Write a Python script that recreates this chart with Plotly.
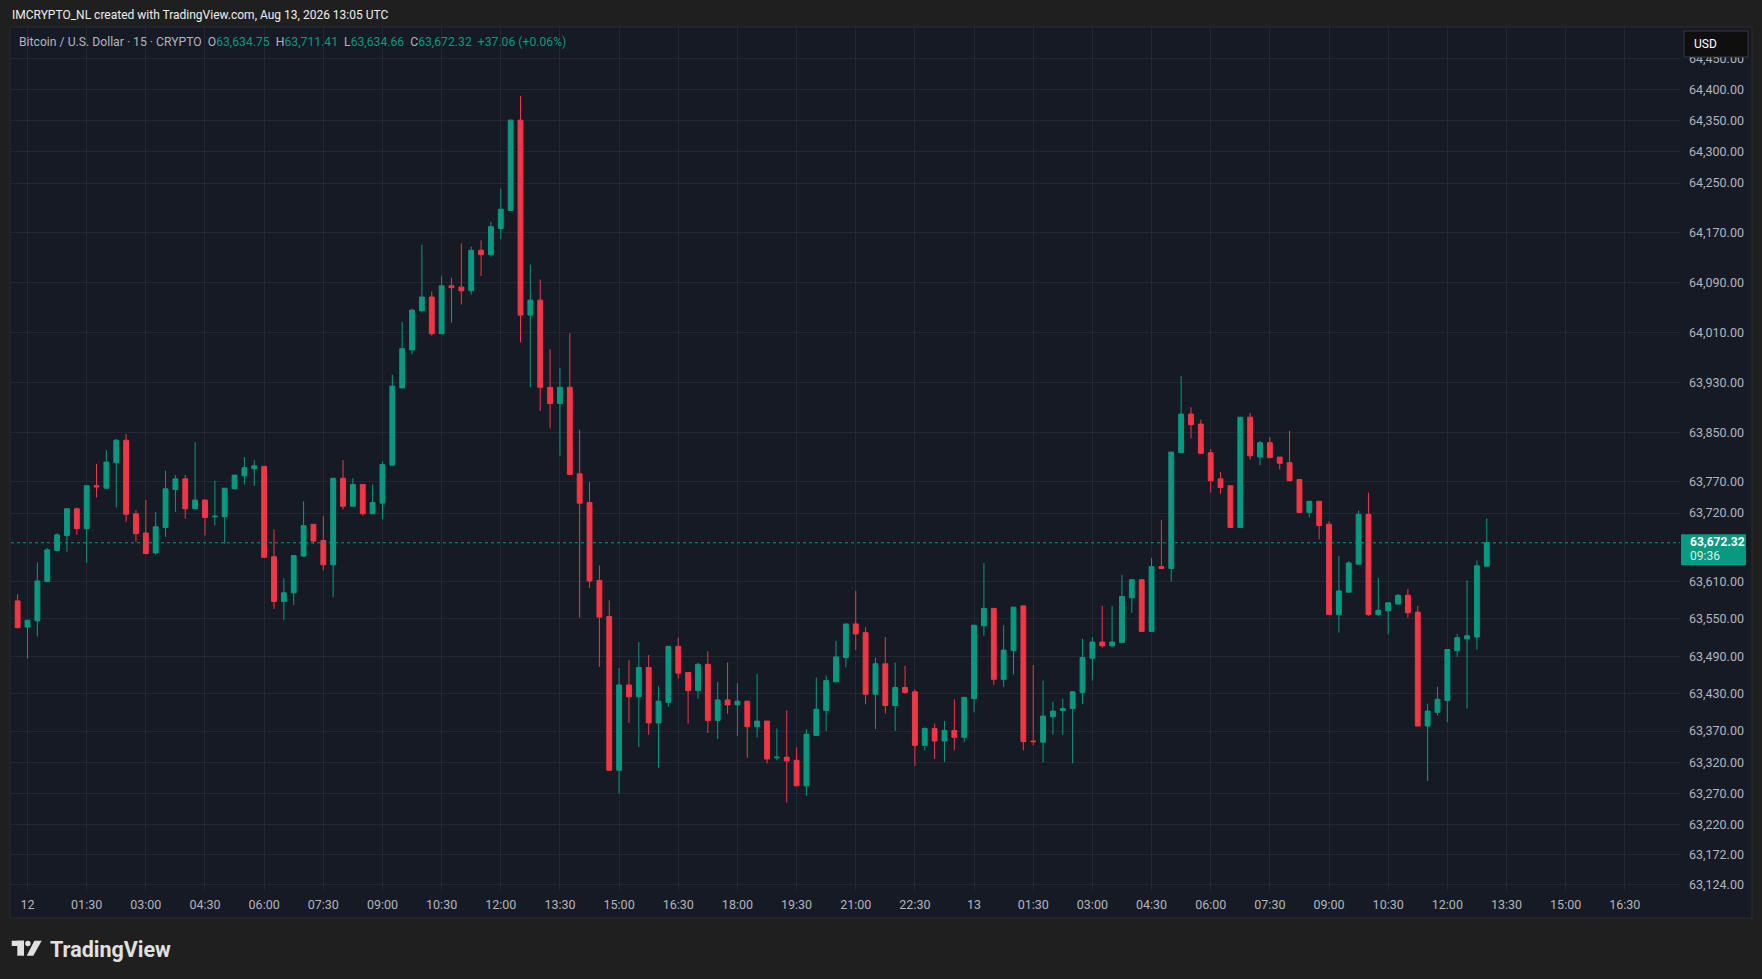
import pandas as pd
import plotly.graph_objects as go

W, H = 1762, 979

# 15 minute BTC/USD candles, first one 2026-08-11 23:30 UTC
first_bar = "2026-08-11 23:30"
opens = [
    63531, 63579, 63537, 63547, 63610, 63660, 63684, 63727, 63695, 63764,
    63760, 63801, 63837, 63719, 63688, 63656, 63697, 63758, 63775, 63727,
    63741, 63714, 63714, 63759, 63780, 63791, 63795, 63650, 63578, 63592,
    63651, 63702, 63676, 63637, 63776, 63731, 63766, 63719, 63736, 63797,
    63921, 63982, 64045, 64067, 64008, 64085, 64083, 64077, 64142, 64135,
    64177, 64206, 64351, 64038, 64062, 63922, 63896, 63922, 63783, 63737,
    63612, 63554, 63307, 63444, 63425, 63472, 63383, 63416, 63506, 63464,
    63435, 63477, 63387, 63420, 63412, 63418, 63377, 63386, 63327, 63328,
    63323, 63282, 63363, 63403, 63449, 63488, 63542, 63528, 63429, 63478,
    63411, 63440, 63433, 63347, 63374, 63354, 63371, 63360, 63422, 63539,
    63567, 63453, 63499, 63571, 63354, 63352, 63393, 63403, 63406, 63432,
    63487, 63513, 63507, 63512, 63584, 63613, 63530, 63634, 63631, 63817,
    63879, 63863, 63817, 63775, 63764, 63697, 63874, 63810, 63833, 63810,
    63801, 63774, 63721, 63739, 63702, 63557, 63593, 63638, 63718, 63557,
    63563, 63574, 63588, 63561, 63378, 63400, 63419, 63499, 63518, 63521,
    63634.75,
]
highs = [
    63582, 63590, 63548, 63641, 63664, 63688, 63727, 63729, 63764, 63799,
    63821, 63839, 63847, 63725, 63741, 63722, 63788, 63781, 63781, 63834,
    63741, 63772, 63760, 63781, 63810, 63805, 63796, 63694, 63615, 63652,
    63739, 63702, 63715, 63777, 63805, 63776, 63766, 63766, 63803, 63942,
    64027, 64048, 64151, 64076, 64101, 64098, 64153, 64148, 64158, 64188,
    64241, 64352, 64390, 64119, 64095, 63983, 63953, 64009, 63854, 63770,
    63636, 63580, 63471, 63484, 63513, 63492, 63442, 63506, 63520, 63464,
    63480, 63498, 63449, 63480, 63447, 63418, 63462, 63386, 63374, 63403,
    63344, 63373, 63456, 63459, 63515, 63542, 63595, 63537, 63488, 63521,
    63480, 63475, 63437, 63376, 63382, 63386, 63421, 63425, 63540, 63640,
    63567, 63540, 63569, 63571, 63476, 63451, 63417, 63422, 63433, 63518,
    63521, 63571, 63571, 63621, 63613, 63613, 63648, 63709, 63818, 63940,
    63890, 63870, 63823, 63786, 63764, 63874, 63881, 63836, 63842, 63810,
    63852, 63774, 63739, 63739, 63707, 63651, 63643, 63724, 63753, 63616,
    63576, 63590, 63598, 63571, 63414, 63441, 63501, 63526, 63612, 63644,
    63711.41,
]
lows = [
    63525, 63535, 63486, 63522, 63610, 63659, 63658, 63685, 63640, 63745,
    63759, 63729, 63706, 63674, 63655, 63653, 63682, 63722, 63711, 63727,
    63684, 63700, 63671, 63758, 63766, 63764, 63649, 63566, 63548, 63572,
    63649, 63670, 63628, 63585, 63726, 63731, 63716, 63719, 63710, 63797,
    63921, 63975, 64042, 64005, 64008, 64026, 64055, 64071, 64101, 64132,
    64160, 64206, 63994, 63922, 63884, 63856, 63812, 63782, 63552, 63600,
    63473, 63306, 63270, 63383, 63344, 63364, 63311, 63409, 63454, 63382,
    63422, 63367, 63357, 63398, 63362, 63327, 63360, 63318, 63323, 63255,
    63282, 63266, 63362, 63370, 63449, 63472, 63500, 63413, 63373, 63398,
    63370, 63430, 63314, 63339, 63325, 63320, 63339, 63352, 63400, 63523,
    63444, 63441, 63461, 63339, 63347, 63320, 63364, 63364, 63318, 63413,
    63451, 63504, 63504, 63512, 63560, 63530, 63530, 63631, 63610, 63817,
    63840, 63816, 63753, 63751, 63697, 63697, 63806, 63797, 63809, 63790,
    63772, 63721, 63713, 63678, 63557, 63528, 63593, 63638, 63555, 63555,
    63525, 63574, 63552, 63378, 63290, 63395, 63384, 63489, 63406, 63501,
    63634.66,
]
closes = [
    63579, 63536, 63548, 63611, 63661, 63685, 63727, 63695, 63764, 63762,
    63802, 63837, 63718, 63687, 63655, 63698, 63759, 63775, 63727, 63741,
    63713, 63715, 63760, 63781, 63793, 63796, 63649, 63578, 63592, 63652,
    63700, 63675, 63637, 63776, 63731, 63766, 63719, 63737, 63798, 63924,
    63984, 64046, 64067, 64008, 64085, 64082, 64077, 64142, 64135, 64180,
    64208, 64351, 64038, 64062, 63922, 63896, 63922, 63782, 63736, 63611,
    63553, 63307, 63444, 63425, 63472, 63383, 63418, 63506, 63463, 63435,
    63477, 63387, 63420, 63412, 63418, 63377, 63386, 63325, 63328, 63322,
    63282, 63365, 63405, 63451, 63489, 63542, 63526, 63429, 63478, 63411,
    63440, 63432, 63347, 63374, 63354, 63371, 63360, 63424, 63540, 63567,
    63453, 63500, 63569, 63353, 63353, 63394, 63402, 63406, 63433, 63488,
    63513, 63507, 63513, 63586, 63613, 63530, 63634, 63631, 63818, 63879,
    63862, 63816, 63772, 63761, 63697, 63874, 63812, 63833, 63809, 63800,
    63772, 63721, 63739, 63700, 63557, 63595, 63640, 63718, 63557, 63564,
    63576, 63588, 63560, 63378, 63402, 63421, 63501, 63520, 63523, 63635.26,
    63672.32,
]

price_ticks = [64450, 64400, 64350, 64300, 64250, 64170, 64090, 64010, 63930,
               63850, 63770, 63720, 63610, 63550, 63490, 63430, 63370, 63320,
               63270, 63220, 63172, 63124]
time_labels = ["12", "01:30", "03:00", "04:30", "06:00", "07:30", "09:00",
               "10:30", "12:00", "13:30", "15:00", "16:30", "18:00", "19:30",
               "21:00", "22:30", "13", "01:30", "03:00", "04:30", "06:00",
               "07:30", "09:00", "10:30", "12:00", "13:30", "15:00", "16:30"]
countdown = "09:36"

UP = "#089981"
DOWN = "#f23645"
PANEL = "#161a25"
FRAME = "#1f1f1f"
GRID = "#232733"
TXT = "#b2b5be"
LOGO = "#e0e0e0"
FONT = "Roboto, Noto Sans, sans-serif"

# pixel geometry of the chart pane
PLOT_L, PLOT_R, PLOT_T, PLOT_B = 11, 1680, 27, 891
X_MIDNIGHT, BAR_PX = 27.5, 9.86          # px of the 00:00 bar, px per bar
Y_REF_PRICE, Y_REF_PX, PX_PER_USD = 63733.1, 504.94, 0.6227


def px(x):
    return x / W


def py(y):
    return 1 - y / H


times = pd.date_range(first_bar, periods=len(opens), freq="15min")
t0 = pd.Timestamp("2026-08-12 00:00")
bar = pd.Timedelta(minutes=15)
x_range = [t0 + bar * ((PLOT_L - X_MIDNIGHT) / BAR_PX),
           t0 + bar * ((PLOT_R - X_MIDNIGHT) / BAR_PX)]
y_range = [Y_REF_PRICE - (PLOT_B - Y_REF_PX) / PX_PER_USD,
           Y_REF_PRICE + (Y_REF_PX - PLOT_T) / PX_PER_USD]
time_ticks = pd.date_range(t0, periods=len(time_labels), freq="90min")

fig = go.Figure()
fig.add_trace(go.Candlestick(
    x=times, open=opens, high=highs, low=lows, close=closes,
    increasing=dict(line=dict(color=UP, width=1), fillcolor=UP),
    decreasing=dict(line=dict(color=DOWN, width=1), fillcolor=DOWN),
    whiskerwidth=0, hoverinfo="skip", showlegend=False,
))

last = closes[-1]
change = closes[-1] - closes[-2]
pct = change / closes[-2] * 100


# legend line
def pair(label, value):
    return (f'<span style="color:{TXT}">{label}</span>'
            f'<span style="color:{UP}">{value:,.2f}</span>')


legend = (f'<span style="color:{TXT}">Bitcoin / U.S. Dollar · 15 · CRYPTO</span>&nbsp;&nbsp;'
          + pair("O", opens[-1]) + "&nbsp;&nbsp;"
          + pair("H", highs[-1]) + "&nbsp;&nbsp;"
          + pair("L", lows[-1]) + "&nbsp;&nbsp;"
          + pair("C", closes[-1]) + "&nbsp;&nbsp;"
          + f'<span style="color:{UP}">{change:+.2f} ({pct:+.2f}%)</span>')

shapes = [
    # chart pane
    dict(type="rect", xref="paper", yref="paper", layer="below",
         x0=px(10), x1=px(1752), y0=py(918), y1=py(27),
         fillcolor=PANEL, line=dict(color="#2b2d33", width=1)),
    # last price line
    dict(type="line", xref="paper", yref="y", x0=px(PLOT_L), x1=px(PLOT_R),
         y0=last, y1=last, line=dict(color=UP, width=1, dash="dot")),
    # last price badge
    dict(type="rect", xref="paper", yref="y", x0=px(1681), x1=px(1746),
         y0=last - 22.4 / PX_PER_USD, y1=last + 8.6 / PX_PER_USD,
         fillcolor=UP, line=dict(width=0)),
    # currency button
    dict(type="rect", xref="paper", yref="paper", x0=px(1684), x1=px(1748),
         y0=py(57), y1=py(31), fillcolor="#0f0f0f",
         line=dict(color="#3a3a3a", width=1)),
    # TradingView mark
    dict(type="rect", xref="paper", yref="paper", x0=px(11.7), x1=px(24),
         y0=py(946), y1=py(940.7), fillcolor=LOGO, line=dict(width=0)),
    dict(type="rect", xref="paper", yref="paper", x0=px(17.3), x1=px(24),
         y0=py(955.7), y1=py(940.7), fillcolor=LOGO, line=dict(width=0)),
    dict(type="circle", xref="paper", yref="paper", x0=px(25.2), x1=px(30.6),
         y0=py(946.2), y1=py(940.8), fillcolor=LOGO, line=dict(width=0)),
    dict(type="path", xref="paper", yref="paper",
         path=(f"M {px(26.7)} {py(955.7)} L {px(33.3)} {py(955.7)} "
               f"L {px(41.7)} {py(940.7)} L {px(34.4)} {py(940.7)} Z"),
         fillcolor=LOGO, line=dict(width=0)),
]

annotations = [
    dict(text="IMCRYPTO_NL created with TradingView.com, Aug 13, 2026 13:05 UTC",
         xref="paper", yref="paper", x=px(10), y=py(14.6), xanchor="left",
         yanchor="middle", showarrow=False,
         font=dict(family=FONT, size=12, color="#eeeeee")),
    dict(text=legend, xref="paper", yref="paper", x=px(17), y=py(41.6),
         xanchor="left", yanchor="middle", showarrow=False,
         font=dict(family=FONT, size=12.2)),
    dict(text="USD", xref="paper", yref="paper", x=px(1692), y=py(44),
         xanchor="left", yanchor="middle", showarrow=False,
         font=dict(family=FONT, size=12, color="#ffffff")),
    dict(text=f"<b>{last:,.2f}</b>", xref="paper", yref="y", x=px(1688),
         y=last + 1.2 / PX_PER_USD, xanchor="left", yanchor="middle",
         showarrow=False, font=dict(family=FONT, size=12, color="#ffffff")),
    dict(text=countdown, xref="paper", yref="y", x=px(1688),
         y=last - 13 / PX_PER_USD, xanchor="left", yanchor="middle",
         showarrow=False,
         font=dict(family=FONT, size=12, color="rgba(255,255,255,0.85)")),
    dict(text="<b>TradingView</b>", xref="paper", yref="paper", x=px(48),
         y=py(949), xanchor="left", yanchor="middle", showarrow=False,
         font=dict(family=FONT, size=21.5, color=LOGO)),
]

fig.update_layout(
    width=W, height=H, autosize=False,
    margin=dict(l=0, r=0, t=0, b=0),
    paper_bgcolor=FRAME, plot_bgcolor=PANEL,
    font=dict(family=FONT, size=12.5, color=TXT),
    shapes=shapes, annotations=annotations,
    hovermode=False,
    xaxis=dict(
        domain=[px(PLOT_L), px(PLOT_R)], range=x_range, type="date",
        rangeslider=dict(visible=False),
        tickvals=time_ticks, ticktext=time_labels,
        showgrid=True, gridcolor=GRID, gridwidth=1,
        zeroline=False, showline=False, ticks="", ticklabelstandoff=4,
        tickfont=dict(family=FONT, size=12.5, color=TXT),
    ),
    yaxis=dict(
        domain=[py(PLOT_B), py(PLOT_T)], range=y_range, side="right",
        tickvals=price_ticks, tickformat=",.2f",
        showgrid=True, gridcolor=GRID, gridwidth=1,
        zeroline=False, showline=False, ticks="", ticklabelstandoff=8,
        tickfont=dict(family=FONT, size=12.5, color=TXT),
    ),
)

# the page body has a default 8px margin; drop it so the chart fills the window
fig.write_html(
    "out.html",
    config={"displayModeBar": False},
    post_script=(f"document.body.style.margin='0';"
                 f"document.body.style.background='{FRAME}';"
                 f"document.body.style.overflow='hidden';"),
)
